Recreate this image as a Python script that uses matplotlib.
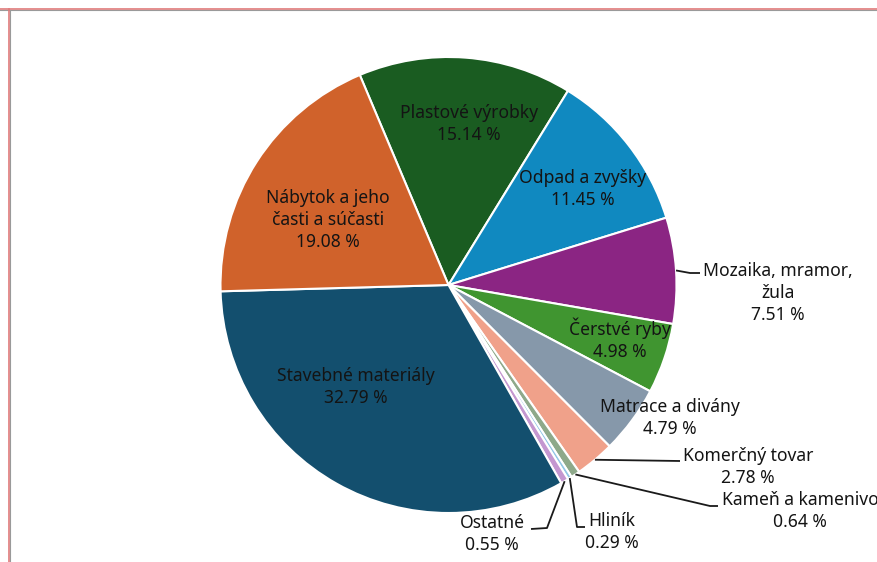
import matplotlib
matplotlib.use("Agg")
import matplotlib.pyplot as plt
from matplotlib.lines import Line2D
import numpy as np

# ---- data ----
categories = ["Plastové výrobky", "Odpad a zvyšky", "Mozaika, mramor,\nžula", "Čerstvé ryby",
              "Matrace a divány", "Komerčný tovar", "Kameň a kamenivo", "Hliník", "Ostatné",
              "Stavebné materiály", "Nábytok a jeho\nčasti a súčasti"]
values = [15.14, 11.45, 7.51, 4.98, 4.79, 2.78, 0.64, 0.29, 0.55, 32.79, 19.08]
value_labels = ["15.14 %", "11.45 %", "7.51 %", "4.98 %", "4.79 %", "2.78 %", "0.64 %",
                "0.29 %", "0.55 %", "32.79 %", "19.08 %"]
colors = ["#1a5c21", "#1089c0", "#8b2583", "#409530", "#8698aa", "#f0a18a", "#8ea98a",
          "#92c6e6", "#c497d0", "#134f6e", "#d0622b"]

# ---- layout (pixels of an 877x562 canvas) ----
W, H = 877, 562
CX, CY, R = 448.5, 285, 228
label_pos = [(469, 124), (583, 189), (778, 293), (620, 339), (670, 418), (748, 467),
             (800, 511), (612, 532), (492, 534), (356, 387), (328, 220)]
leaders = {2: [(690, 273), (700, 273)],
           5: [(680, 461)],
           6: [(710, 506), (718, 506)],
           7: [(577, 527), (585, 527)],
           8: [(547, 528), (531, 529)]}

def d(p):
    return ((p[0] - CX) / R, (CY - p[1]) / R)

fig = plt.figure(figsize=(W / 100, H / 100), dpi=100)
ax = fig.add_axes([0, 0, 1, 1])

start = 90 + 22.9
wedges, _ = ax.pie(values, colors=colors, startangle=start, counterclock=False, radius=1,
                   center=(0, 0), wedgeprops=dict(edgecolor="white", linewidth=1.5),
                   frame=True)
ax.set_xlim(-CX / R, (W - CX) / R)
ax.set_ylim((CY - H) / R, CY / R)
ax.set_aspect("equal", adjustable="box")
ax.axis("off")

txtcolor = "#141414"
for i, (cat, vl) in enumerate(zip(categories, value_labels)):
    x, y = d(label_pos[i])
    ax.text(x, y, f"{cat}\n{vl}", ha="center", va="center", fontsize=12.6,
            family=["Noto Sans", "DejaVu Sans"], color=txtcolor, linespacing=1.32,
            clip_on=False)

for i, pts in leaders.items():
    w = wedges[i]
    mid = np.deg2rad((w.theta1 + w.theta2) / 2)
    xs = [np.cos(mid)]
    ys = [np.sin(mid)]
    for p in pts:
        x, y = d(p)
        xs.append(x)
        ys.append(y)
    ax.plot(xs, ys, color="#1a1a1a", linewidth=1.3, solid_capstyle="butt")

# frame lines of the screenshot
fig.add_artist(Line2D([0, 1], [1 - 8.5 / H, 1 - 8.5 / H], color="#e07a7a", linewidth=1.2))
fig.add_artist(Line2D([0, 1], [1 - 9.8 / H, 1 - 9.8 / H], color="#9a9a9a", linewidth=0.8))
fig.add_artist(Line2D([8.5 / W, 8.5 / W], [0, 1 - 8.5 / H], color="#e07a7a", linewidth=1.2))
fig.add_artist(Line2D([9.8 / W, 9.8 / W], [0, 1 - 9.8 / H], color="#9a9a9a", linewidth=0.8))

fig.savefig("out.png", dpi=100, facecolor="white")
